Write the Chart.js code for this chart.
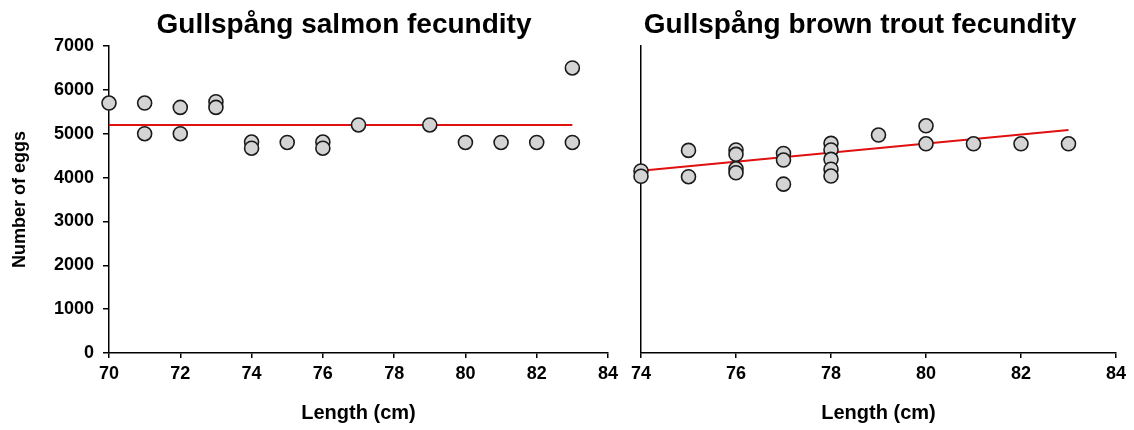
<!DOCTYPE html>
<html><head><meta charset="utf-8">
<script src="https://cdn.jsdelivr.net/npm/chart.js@4.4.1/dist/chart.umd.min.js"></script>
<style>
html,body{margin:0;padding:0;background:#fff;width:1134px;height:430px;overflow:hidden;}
#wrapL{position:absolute;left:0;top:0;width:706px;height:430px;}
#wrapR{position:absolute;left:586px;top:0;width:548px;height:430px;}
</style></head>
<body>
<div id="wrapL"><canvas id="cL"></canvas></div>
<div id="wrapR"><canvas id="cR"></canvas></div>
<script>
// ---- data ----
const salmonLength = [70,71,71,72,72,73,73,74,74,75,76,76,77,79,80,81,82,83,83];
const salmonEggs   = [5700,5700,5000,5600,5000,5730,5600,4810,4670,4800,4810,4670,5200,5200,4800,4800,4800,6500,4800];
const salmonFitX   = [70,83];
const salmonFitY   = [5200,5200];
const troutLength  = [74,74,75,75,76,76,76,76,77,77,77,78,78,78,78,78,79,80,80,81,82,83];
const troutEggs    = [4150,4030,4620,4020,4630,4530,4200,4110,4550,4400,3850,4780,4630,4415,4190,4035,4970,5180,4770,4770,4770,4770];
const troutFitX    = [74,83];
const troutFitY    = [4157,5085];
const salmonXTicks = [70,72,74,76,78,80,82,84];
const troutXTicks  = [74,76,78,80,82,84];
const yTicks       = [0,1000,2000,3000,4000,5000,6000,7000];

const FONT = "'Liberation Sans', Arial, sans-serif";
Chart.defaults.font.family = FONT;
Chart.defaults.color = '#000';

function pts(xs, ys){ return xs.map((x,i)=>({x:x, y:ys[i]})); }

// shifts the title block horizontally after layout
const titleShift = {
  id:'titleShift',
  afterLayout(chart, args, o){
    const t = chart.titleBlock;
    if (t && o && o.dx){ t.left += o.dx; t.right += o.dx; }
  }
};

function makeChart(id, opts){
  const scatterDs = {
    type:'scatter', data: pts(opts.xs, opts.ys),
    backgroundColor:'#d4d4d4', borderColor:'#1a1a1a', borderWidth:1.6,
    pointRadius:7, pointHoverRadius:7, clip:false, order:1
  };
  const lineDs = {
    type:'line', data: pts(opts.fx, opts.fy),
    borderColor:'#e01010', borderWidth:2, pointRadius:0, fill:false,
    showLine:true, clip:false, order:2
  };
  return new Chart(document.getElementById(id), {
    type:'scatter',
    data:{ datasets:[lineDs, scatterDs] },
    plugins:[titleShift],
    options:{
      responsive:true, maintainAspectRatio:false, animation:false,
      layout:{ padding:{ left:0, right:opts.padRight, top:0, bottom:0 } },
      plugins:{
        legend:{display:false}, tooltip:{enabled:false},
        titleShift:{ dx:opts.titleDx },
        title:{ display:true, text:opts.title, font:{size:28, weight:'bold', family:FONT},
                color:'#000', padding:{top:8, bottom:4.4} }
      },
      scales:{
        x:{
          type:'linear', min:opts.xmin, max:84,
          afterBuildTicks:(s)=>{ s.ticks = opts.xticks.map(v=>({value:v})); },
          afterFit:(s)=>{ s.height = 77; },
          grid:{ drawOnChartArea:false, drawTicks:true, tickLength:5, color:'#000', lineWidth:1.5 },
          border:{ display:true, color:'#000', width:1.5 },
          ticks:{ font:{size:18, weight:'bold', family:FONT}, color:'#000', padding:5, maxRotation:0 },
          title:{ display:true, text:'Length (cm)', font:{size:20, weight:'bold', family:FONT},
                  color:'#000', padding:{top:0, bottom:5} }
        },
        y:{
          type:'linear', min:0, max:7000,
          afterBuildTicks:(s)=>{ s.ticks = yTicks.map(v=>({value:v})); },
          afterFit:(s)=>{ s.width = opts.yWidth; },
          grid:{ drawOnChartArea:false, drawTicks:opts.showY, tickLength:6, color:'#000', lineWidth:1.5 },
          border:{ display:true, color:'#000', width:1.5 },
          ticks:{ display:opts.showY, font:{size:18, weight:'bold', family:FONT}, color:'#000', padding:9,
                  callback:(v)=>String(v) },
          title:{ display:opts.showY, text:'Number of eggs', font:{size:18, weight:'bold', family:FONT},
                  color:'#000', padding:{top:9, bottom:0} }
        }
      }
    }
  });
}

makeChart('cL', { xs:salmonLength, ys:salmonEggs, fx:salmonFitX, fy:salmonFitY,
  title:'Gullspång salmon fecundity', xmin:70, xticks:salmonXTicks,
  padRight:98, yWidth:109, showY:true, titleDx:40 });
makeChart('cR', { xs:troutLength, ys:troutEggs, fx:troutFitX, fy:troutFitY,
  title:'Gullspång brown trout fecundity', xmin:74, xticks:troutXTicks,
  padRight:18, yWidth:55, showY:false, titleDx:9 });
</script>
</body></html>
